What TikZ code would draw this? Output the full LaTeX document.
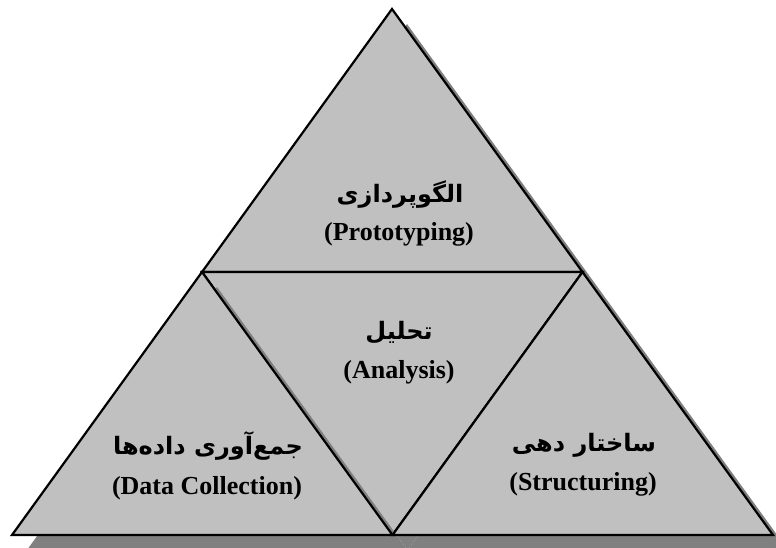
\documentclass[tikz,border=0pt]{standalone}
\usepackage{fontspec}
\usetikzlibrary{calc}
\setmainfont{Liberation Serif}
\newfontfamily\arabicfont[Script=Arabic]{DejaVu Sans}
\TeXXeTstate=1
\definecolor{trifill}{HTML}{C0C0C0}
\definecolor{shadowgray}{HTML}{808080}
\begin{document}
\begin{tikzpicture}[x=1pt,y=-1pt,
  tri/.style={fill=trifill, draw=black, line width=2.2pt, line join=miter},
  shad/.style={fill=shadowgray, draw=none},
  entext/.style={font=\bfseries\fontsize{26}{30}\selectfont, text=black, inner sep=0pt},
  fatext/.style={font=\arabicfont\bfseries\fontsize{24}{30}\selectfont, text=black, inner sep=0pt}]
\useasboundingbox (0,0) rectangle (776,547);
% vertices
\coordinate (A)  at (392,9);
\coordinate (L)  at (12,535);
\coordinate (R)  at (773,535);
\coordinate (ML) at (202,272);
\coordinate (MR) at (582.5,272);
\coordinate (MB) at (392.5,535);
\coordinate (off) at (15,15);
% top triangle
\fill[shad] ($(A)+(off)$) -- ($(ML)+(off)$) -- ($(MR)+(off)$) -- cycle;
\draw[tri] (A) -- (ML) -- (MR) -- cycle;
% centre (inverted) triangle
\fill[shad] ($(ML)+(off)$) -- ($(MR)+(off)$) -- ($(MB)+(off)$) -- cycle;
\draw[tri] (ML) -- (MR) -- (MB) -- cycle;
% left triangle
\fill[shad] ($(ML)+(off)$) -- ($(L)+(off)$) -- ($(MB)+(off)$) -- cycle;
\draw[tri] (ML) -- (L) -- (MB) -- cycle;
% right triangle
\fill[shad] ($(MR)+(off)$) -- ($(MB)+(off)$) -- ($(R)+(off)$) -- cycle;
\draw[tri] (MR) -- (MB) -- (R) -- cycle;
% labels
\node[fatext] (topfa) at (400,195) {\beginR الگوپردازی\endR};
\node[entext] (topen) at (399,234) {(Prototyping)};
\node[fatext] (cenfa) at (399,333) {\beginR تحلیل\endR};
\node[entext] (cenen) at (399,372) {(Analysis)};
\node[fatext] (leftfa) at (208,446) {\beginR جمع‌آوری داده‌ها\endR};
\node[entext] (leften) at (207,488) {(Data Collection)};
\node[fatext] (rightfa) at (584,445) {\beginR ساختار دهی\endR};
\node[entext] (righten) at (583,484) {(Structuring)};
\end{tikzpicture}
\end{document}
